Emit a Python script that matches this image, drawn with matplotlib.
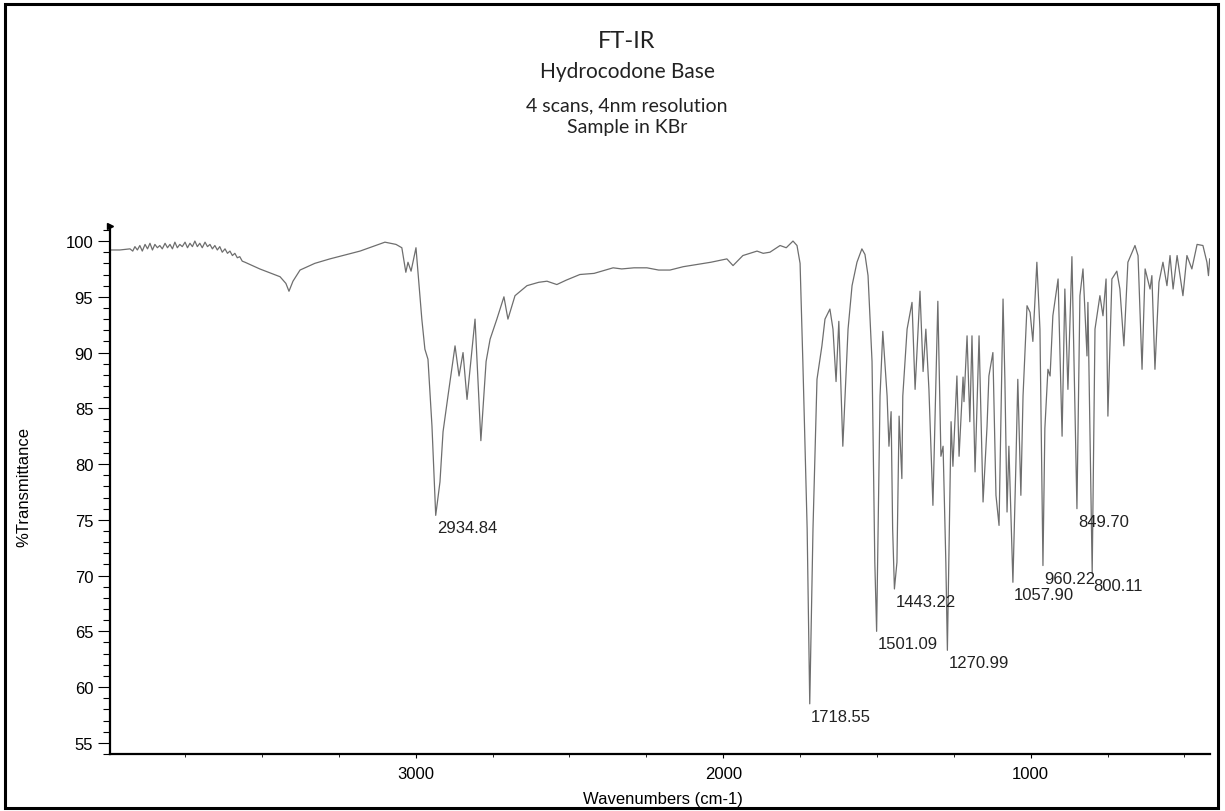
"""FT-IR spectrum of hydrocodone base (KBr pellet), redrawn with matplotlib."""

import matplotlib
matplotlib.use("Agg")
import matplotlib.pyplot as plt
from matplotlib.patches import Rectangle
from matplotlib.ticker import MultipleLocator

# spectrum (wavenumber in cm-1, %T)
wavenumbers = [
    3994, 3962, 3929, 3920, 3913, 3905, 3897, 3889, 3880, 3872, 3864, 3856,
    3848, 3840, 3832, 3824, 3815, 3807, 3799, 3791, 3783, 3775, 3767, 3759,
    3750, 3742, 3734, 3726, 3718, 3710, 3702, 3694, 3685, 3677, 3669, 3661,
    3653, 3645, 3637, 3629, 3620, 3612, 3604, 3596, 3588, 3580, 3572, 3564,
    3555, 3507, 3441, 3422, 3412, 3399, 3376, 3328, 3279, 3181, 3100,
    3064, 3045, 3032, 3025, 3015, 2999, 2980, 2970, 2960, 2947, 2934.84,
    2921, 2911, 2895, 2872, 2859, 2846, 2833, 2807, 2788, 2771, 2758, 2736,
    2713, 2700, 2677, 2638, 2600, 2573, 2541, 2510, 2466, 2420, 2358, 2330,
    2290, 2248, 2210, 2173, 2130, 2085, 2040, 1988, 1968, 1936, 1890, 1870,
    1848, 1815, 1795, 1773, 1760, 1750, 1741, 1727, 1718.55,
    1708, 1695, 1679, 1669, 1653, 1643, 1633, 1624, 1611, 1594, 1581, 1565,
    1549, 1539, 1529, 1516, 1507, 1501.09, 1490, 1481, 1467, 1461, 1454,
    1449, 1443.22, 1435, 1428, 1419, 1416, 1402, 1386, 1376, 1360, 1350,
    1341, 1331, 1318, 1302, 1292, 1285, 1276, 1270.99, 1259, 1253, 1240,
    1233, 1220, 1217, 1207, 1198, 1191, 1181, 1168, 1155, 1142, 1136, 1123,
    1113, 1103, 1090, 1084, 1077, 1071, 1057.90, 1048, 1042, 1032, 1025,
    1012, 1002, 993, 980, 970, 960.22, 954, 944, 937, 928, 911, 898, 889,
    879, 866, 849.70, 840, 830, 817, 814, 800.11, 791, 775, 765, 755, 749,
    736, 720, 710, 697, 684, 661, 651, 638, 628, 612, 606, 596, 583, 570,
    557, 547, 537, 524, 505, 492, 476, 459, 440, 427, 422, 418,
]
transmittance = [
    99.2, 99.2, 99.3, 99.1, 99.5, 99.2, 99.6, 99.1, 99.7, 99.3, 99.8, 99.2,
    99.7, 99.4, 99.6, 99.3, 99.8, 99.4, 99.7, 99.3, 99.9, 99.4, 99.7, 99.5,
    99.9, 99.4, 99.8, 99.5, 100.0, 99.5, 99.8, 99.4, 99.9, 99.5, 99.7, 99.3,
    99.6, 99.2, 99.5, 99.0, 99.3, 98.9, 99.1, 98.7, 98.9, 98.5, 98.6, 98.2,
    98.1, 97.5, 96.8, 96.2, 95.5, 96.4, 97.4, 98.0, 98.4, 99.1, 99.9,
    99.7, 99.4, 97.2, 98.1, 97.3, 99.4, 93.0, 90.3, 89.4, 83.4, 75.4,
    78.4, 82.9, 86.1, 90.6, 87.9, 90.0, 85.8, 93.0, 82.1, 89.2, 91.2, 93.0,
    95.0, 93.0, 95.1, 96.0, 96.3, 96.4, 96.1, 96.5, 97.0, 97.1, 97.6, 97.5,
    97.6, 97.6, 97.4, 97.4, 97.7, 97.9, 98.1, 98.4, 97.8, 98.7, 99.1, 98.9,
    99.0, 99.6, 99.4, 100.0, 99.6, 98.0, 89.2, 74.2, 58.5,
    74.2, 87.6, 90.6, 93.0, 93.9, 92.1, 87.4, 92.8, 81.6, 92.1, 96.0, 98.1,
    99.3, 98.8, 96.9, 89.2, 71.2, 65.0, 86.1, 91.9, 86.1, 81.6, 84.7,
    74.2, 68.8, 71.2, 84.3, 78.7, 86.1, 92.1, 94.5, 86.7, 95.5, 88.3,
    92.1, 86.7, 76.3, 94.6, 80.7, 81.6, 71.2, 63.3, 83.8, 79.8, 87.9,
    80.7, 87.8, 85.6, 91.5, 83.8, 91.5, 79.3, 91.5, 76.6, 83.4, 87.9, 90.0,
    77.2, 74.5, 94.8, 87.6, 75.7, 81.6, 69.4, 80.2, 87.6, 77.2, 86.1,
    94.2, 93.6, 91.0, 98.1, 92.1, 70.9, 83.2, 88.5, 87.9, 93.3, 96.6, 82.5,
    95.7, 86.7, 98.6, 76.0, 95.1, 97.5, 89.7, 94.5, 70.2, 92.1, 95.1, 93.3,
    96.6, 84.3, 96.6, 97.3, 95.7, 90.6, 98.1, 99.6, 98.7, 88.5, 97.5, 95.7,
    96.9, 88.5, 96.3, 98.1, 96.0, 98.7, 95.7, 98.7, 95.1, 98.7, 97.5, 99.7,
    99.6, 98.1, 96.9, 98.4,
]

# labelled band positions and their minima
peak_positions = [2934.84, 1718.55, 1501.09, 1443.22, 1270.99, 1057.90,
                  960.22, 849.70, 800.11]
peak_values = [75.4, 58.5, 65.0, 68.8, 63.3, 69.4, 70.9, 76.0, 70.2]

title_lines = ["FT-IR", "Hydrocodone Base", "4 scans, 4nm resolution",
               "Sample in KBr"]

W, H = 1225, 812
fig = plt.figure(figsize=(W / 100, H / 100), dpi=100)
plt.rcParams["font.family"] = ["Liberation Sans", "DejaVu Sans"]

# black frame round the whole sheet
fig.patches.append(Rectangle((5 / W, 3 / H), 1213 / W, 804 / H,
                             transform=fig.transFigure, fill=False,
                             edgecolor="black", linewidth=2.2))

ax = fig.add_axes([110 / W, 1 - 755 / H, 1100 / W, 528 / H])
ax.plot(wavenumbers, transmittance, color="#6e6e6e", linewidth=0.9)
ax.set_xlim(3994, 417)
ax.set_ylim(54.0, 101.35)

for spine in ("top", "right"):
    ax.spines[spine].set_visible(False)
for spine in ("left", "bottom"):
    ax.spines[spine].set_linewidth(1.6)

ax.xaxis.set_major_locator(MultipleLocator(1000))
ax.xaxis.set_minor_locator(MultipleLocator(250))
ax.yaxis.set_minor_locator(MultipleLocator(1))
ax.set_yticks(range(55, 101, 5))
ax.tick_params(axis="y", which="major", length=9, width=0.8, labelsize=12,
               pad=3)
ax.tick_params(axis="y", which="minor", length=5, width=0.8)
ax.tick_params(axis="x", which="major", length=3, width=0.8, labelsize=12,
               pad=6)
ax.tick_params(axis="x", which="minor", length=2, width=0.6)

# little flag at the top of the y axis
ax.plot([0], [1], marker=">", markersize=4, color="black",
        transform=ax.transAxes, clip_on=False)

for pos, val in zip(peak_positions, peak_values):
    ax.annotate(f"{pos:.2f}", xy=(pos, val), xytext=(1, -5),
                textcoords="offset pixels", ha="left", va="top",
                fontsize=12, color="#222222")

fig.text(24 / W, 1 - 487 / H, "%Transmittance", rotation=90,
         ha="center", va="center", fontsize=12)
fig.text(663 / W, 1 - 800 / H, "Wavenumbers (cm-1)", ha="center",
         va="center", fontsize=12)

title_font = ["Lato", "DejaVu Sans"]
title_y = [42, 72, 106, 128]
title_size = [17, 15, 14, 14]
for text, y, size in zip(title_lines, title_y, title_size):
    fig.text(627 / W, 1 - y / H, text, ha="center", va="center",
             fontsize=size, family=title_font, color="#222222")

fig.savefig("out.png", dpi=100)
